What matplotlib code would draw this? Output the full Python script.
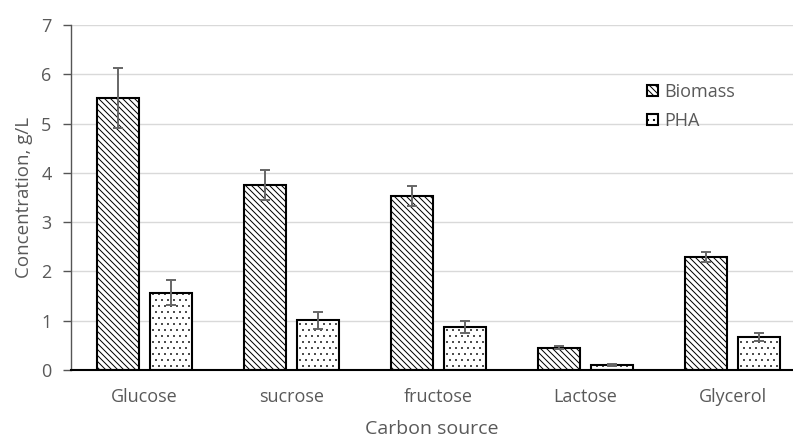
import matplotlib
matplotlib.use("Agg")
import matplotlib.pyplot as plt
import numpy as np

categories = ["Glucose", "sucrose", "fructose", "Lactose", "Glycerol"]
biomass = [5.52, 3.75, 3.53, 0.45, 2.30]
biomass_err = [0.60, 0.30, 0.20, 0.03, 0.10]
pha = [1.57, 1.01, 0.88, 0.11, 0.67]
pha_err = [0.26, 0.17, 0.12, 0.02, 0.08]
yticks = [0, 1, 2, 3, 4, 5, 6, 7]

plt.rcParams['font.family'] = ['Open Sans', 'DejaVu Sans']

# dpi 72 so the hatch tile (72 px) gives an integer line spacing
DPI = 72
S = 100 / DPI   # sizes below are written as points at 100 dpi
W, H = 793, 440
fig = plt.figure(figsize=(W/DPI, H/DPI), dpi=DPI)
ax = fig.add_axes([71/W, 70/H, (W-71)/W, 345/H])

x = np.arange(len(categories))
bw = 0.286
off = 0.18
txt = '#595959'

with plt.rc_context({'hatch.color': '#2a2a2a', 'hatch.linewidth': 1.0}):
    ax.bar(x - off, biomass, bw, facecolor='white', edgecolor='black', linewidth=1.5*S,
           hatch='\\'*4, label='Biomass', zorder=3)
with plt.rc_context({'hatch.color': '#555555', 'hatch.linewidth': 0.6}):
    ax.bar(x + off, pha, bw, facecolor='white', edgecolor='black', linewidth=1.5*S,
           hatch='..', label='PHA', zorder=3)
ax.errorbar(x - off, biomass, yerr=biomass_err, fmt='none', ecolor='#666666',
            elinewidth=1.4*S, capsize=3.6*S, capthick=1.4*S, zorder=4)
ax.errorbar(x + off, pha, yerr=pha_err, fmt='none', ecolor='#666666',
            elinewidth=1.4*S, capsize=3.6*S, capthick=1.4*S, zorder=4)

ax.set_xlim(-0.5, -0.5 + (W-71)/147)
ax.set_ylim(0, 7)
ax.set_yticks(yticks)
ax.set_xticks(x)
ax.set_xticklabels(categories)
ax.tick_params(axis='x', length=0, pad=13*S, labelsize=13*S, labelcolor=txt)
ax.tick_params(axis='y', length=6*S, width=1*S, color='#555555', pad=8*S,
               labelsize=13*S, labelcolor=txt)
ax.grid(axis='y', color='#d9d9d9', linewidth=1*S, zorder=0)
ax.set_axisbelow(True)
for s in ['top', 'right']:
    ax.spines[s].set_visible(False)
ax.spines['left'].set_color('#555555')
ax.spines['left'].set_linewidth(1*S)
ax.spines['bottom'].set_color('black')
ax.spines['bottom'].set_linewidth(1.5*S)
ax.spines['bottom'].set_zorder(5)

ax.set_xlabel('Carbon source', fontsize=14*S, color=txt, labelpad=10*S)
ax.set_ylabel('Concentration, g/L', fontsize=13.5*S, color=txt, labelpad=6*S)

leg = ax.legend(loc='upper left', frameon=False, borderpad=0, borderaxespad=0,
                fontsize=13*S, handlelength=0.6, handleheight=0.6, handletextpad=0.35,
                labelspacing=0.6, labelcolor=txt)
leg.set_bbox_to_anchor((647/W, 1 - 83/H), transform=fig.transFigure)

fig.savefig('out.png', dpi=DPI)
